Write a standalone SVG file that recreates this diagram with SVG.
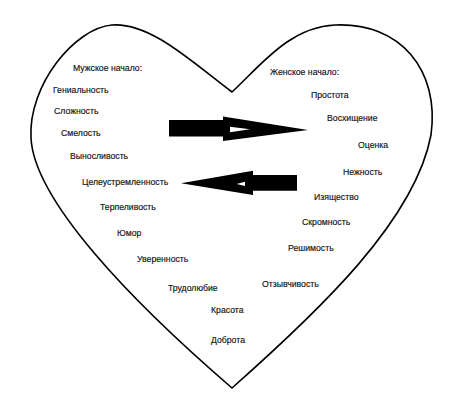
<svg xmlns="http://www.w3.org/2000/svg" width="470" height="403" viewBox="0 0 470 403">
<style>
text{font-family:"Liberation Sans",Arial,sans-serif;font-size:8.7px;fill:#111;stroke:#111;stroke-width:0.15;}
.heart{fill:#fff;stroke:#000;stroke-width:1.6;}
.arrow{fill:#000;}
.notch{fill:#fff;}
</style>
<rect width="470" height="403" fill="#fff"/>
<g id="heart">
<path class="heart" d="M232,92 C192,62 150,22 112,25 C75,28 28,85 31,138 C34,200 130,300 232,388 C320,310 415,220 431,135 C440,70 400,22 335,25 C290,27 262,64 232,92 Z"/>
</g>
<g id="male">
<text x="73" y="71">Мужское начало:</text>
<text x="53" y="93">Гениальность</text>
<text x="54" y="114">Сложность</text>
<text x="61" y="136">Смелость</text>
<text x="70" y="159">Выносливость</text>
<text x="82" y="185">Целеустремленность</text>
<text x="100" y="210">Терпеливость</text>
<text x="117" y="236">Юмор</text>
<text x="137" y="262">Уверенность</text>
<text x="168" y="291">Трудолюбие</text>
<text x="211" y="313">Красота</text>
<text x="211" y="343">Доброта</text>
</g>
<g id="female">
<text x="270" y="75">Женское начало:</text>
<text x="311" y="98">Простота</text>
<text x="327" y="121">Восхищение</text>
<text x="358" y="148">Оценка</text>
<text x="343" y="175">Нежность</text>
<text x="314" y="200">Изящество</text>
<text x="302" y="225">Скромность</text>
<text x="288" y="251">Решимость</text>
<text x="262" y="287">Отзывчивость</text>
</g>
<g id="connectors">
<g id="arrow-right">
<path class="arrow" d="M169,120 L223,120 L223,116.5 L308,130 L223,141 L223,136.5 L169,136.5 Z"/>
<path class="notch" d="M230,126.7 L250,129.3 L230,132.3 Z"/>
</g>
<g id="arrow-left">
<path class="arrow" d="M297,175 L253,175 L253,170.7 L181,183.3 L253,195 L253,190.7 L297,190.7 Z"/>
<path class="notch" d="M245,181.7 L236.7,184 L245,186 Z"/>
</g>
</g>
</svg>
